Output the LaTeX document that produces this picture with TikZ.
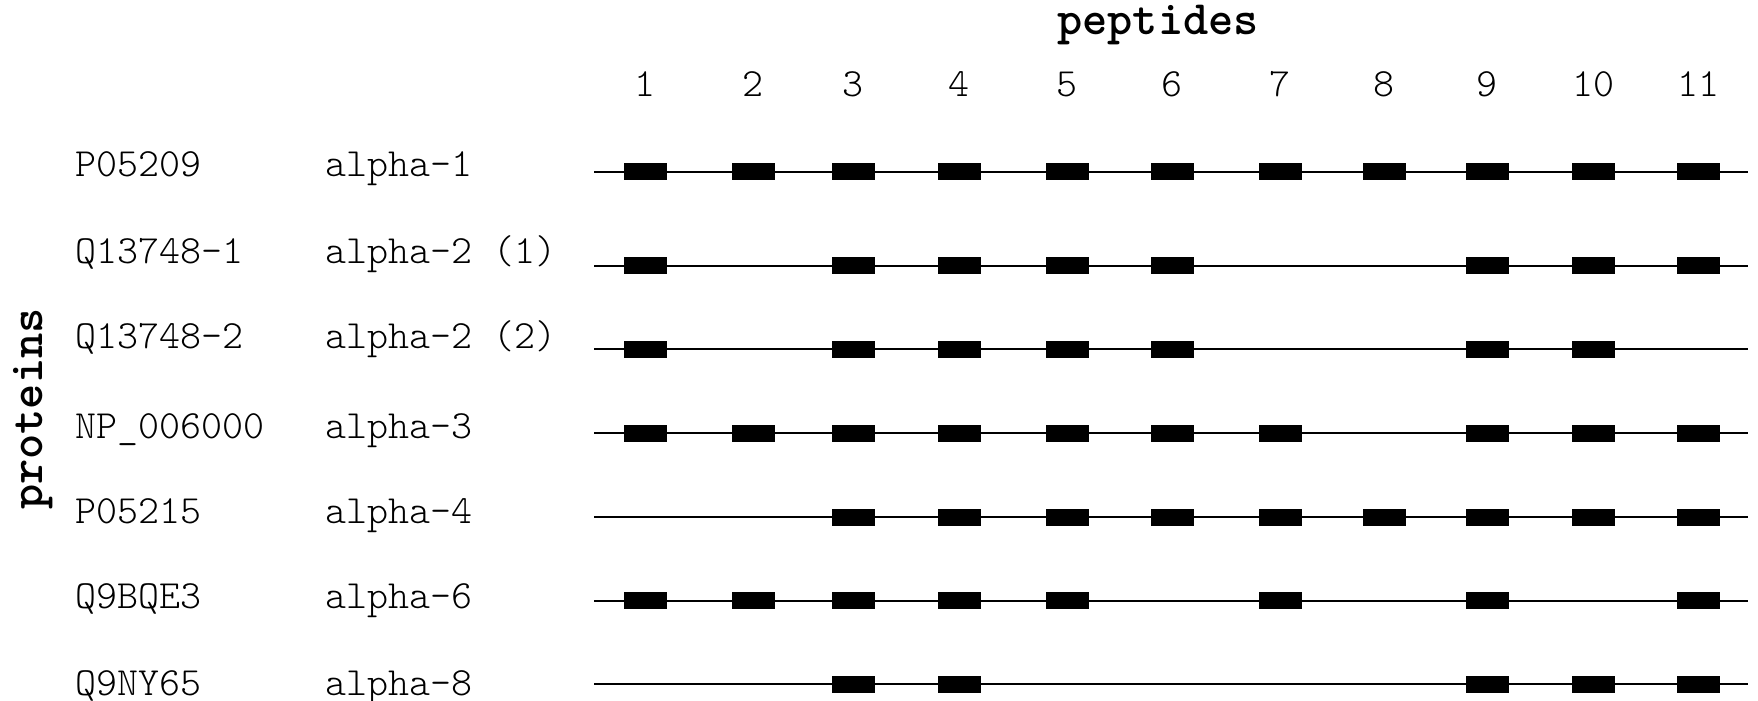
\documentclass[tikz,border=0pt]{standalone}
\usepackage{fontspec}
\setmonofont{Latin Modern Mono Light}
\begin{document}
\begin{tikzpicture}[x=1bp,y=-1bp,
  lbl/.style={inner sep=0pt, anchor=base west, font=\ttfamily\fontsize{40bp}{46bp}\selectfont},
  numlbl/.style={inner sep=0pt, anchor=base, font=\ttfamily\fontsize{40bp}{46bp}\selectfont},
  axislbl/.style={inner sep=0pt, anchor=base, font=\ttfamily\bfseries\fontsize{48bp}{54bp}\selectfont},
  track/.style={line width=1.8bp, black},
  hit/.style={fill=black, draw=none, minimum width=43bp, minimum height=17bp, inner sep=0pt}
]
\useasboundingbox (0,0) rectangle (1758,701);

% axis titles
\node[axislbl] (pep) at (1158,35) {peptides};
\node[axislbl, rotate=90] (prot) at (42,409) {proteins};

% peptide columns
\foreach \c/\x in {1/645,2/753,3/853,4/959,5/1067,6/1172,7/1280,8/1384,9/1487,10/1593,11/1698}{
  \node[numlbl] (n\c) at (\x,97) {\c};
}

% protein rows: index / track y / text baseline / accession / name / detected peptides
\foreach \r/\y/\t/\acc/\nm/\cols in {
  1/171.7/176.7/P05209/alpha-1/{1,2,3,4,5,6,7,8,9,10,11},
  2/265.7/263.5/Q13748-1/alpha-2 (1)/{1,3,4,5,6,9,10,11},
  3/349/348/Q13748-2/alpha-2 (2)/{1,3,4,5,6,9,10},
  4/433/438/NP\_006000/alpha-3/{1,2,3,4,5,6,7,9,10,11},
  5/517/523/P05215/alpha-4/{3,4,5,6,7,8,9,10,11},
  6/600.7/608/Q9BQE3/alpha-6/{1,2,3,4,5,7,9,11},
  7/684.3/695/Q9NY65/alpha-8/{3,4,9,10,11}}{
  \node[lbl] (acc\r) at (75,\t) {\acc};
  \node[lbl] (name\r) at (325,\t) {\nm};
  \coordinate (s\r) at (594,\y);
  \coordinate (e\r) at (1748,\y);
  \draw[track] (s\r) -- (e\r);
  \foreach \c in \cols {
    \node[hit] (h\r-\c) at (n\c |- s\r) {};
  }
}
\end{tikzpicture}
\end{document}
